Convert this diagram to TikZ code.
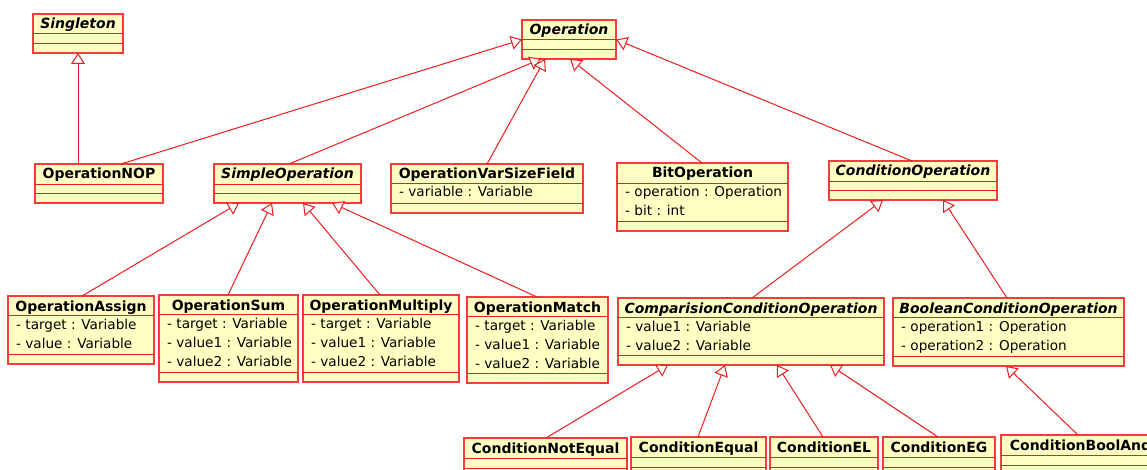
\documentclass[tikz,border=0pt]{standalone}
\usepackage{fontspec}
\setmainfont{DejaVu Sans}[
  ItalicFont={DejaVu Sans Oblique},
  BoldFont={DejaVu Sans Bold},
  BoldItalicFont={DejaVu Sans Bold Oblique}]
\usetikzlibrary{arrows.meta,fit}

\definecolor{umlred}{RGB}{238,28,28}
\definecolor{umlborder}{RGB}{245,60,60}
\definecolor{umlfill}{RGB}{255,255,196}

% class box: name, left, top, right, first divider, second divider, bottom
\newcommand\umlbox[7]{%
  \node[classbox, fit={(#2,#3) (#4,#7)}] (#1) {};
  \draw[compartment] (#2,#5) -- (#4,#5) (#2,#6) -- (#4,#6);
}
% class title: left, top, right, style, text
\newcommand\umltitle[5]{%
  \node[#4, anchor=base] at ({(#1+#3)/2},#2+15) {#5};
}
% attribute row: left, first divider, row index, text
\newcommand\umlattr[4]{%
  \node[attr, anchor=base west] at (#1+8,#2+14+19*#3) {#4};
}

\begin{document}
\begin{tikzpicture}[x=1pt,y=-1pt,
  classbox/.style={draw=umlborder, fill=umlfill, line width=1.1pt, inner sep=0pt, outer sep=0pt},
  compartment/.style={draw=umlred, line width=0.9pt},
  concrete/.style={inner sep=0pt, font=\fontsize{14pt}{16pt}\selectfont\bfseries},
  abstract/.style={inner sep=0pt, font=\fontsize{14pt}{16pt}\selectfont\bfseries\itshape},
  attr/.style={inner sep=0pt, font=\fontsize{13.6pt}{16pt}\selectfont},
  gen/.style={draw=umlred, line width=1pt,
    -{Triangle[open, length=11pt, width=14pt, fill=white, line width=1pt]}}
]
\useasboundingbox (0,0) rectangle (1147,470);
\clip (0,0) rectangle (1147,470);

% top level
\umlbox{single}{33}{14}{123}{33}{43}{53}
\umltitle{33}{14}{123}{abstract}{Singleton}
\umlbox{op}{522}{20}{616}{39}{49}{59}
\umltitle{522}{20}{616}{abstract}{Operation}

% second level
\umlbox{nop}{35}{164}{163}{184}{193}{203}
\umltitle{35}{164}{163}{concrete}{OperationNOP}

\umlbox{simple}{214}{164}{361}{184}{193}{203}
\umltitle{214}{164}{361}{abstract}{SimpleOperation}

\umlbox{varsize}{391}{164}{583}{183}{203}{213}
\umltitle{391}{164}{583}{concrete}{OperationVarSizeField}
\umlattr{391}{183}{0}{- variable : Variable}

\umlbox{bitop}{617}{163}{788}{183}{221}{231}
\umltitle{617}{163}{788}{concrete}{BitOperation}
\umlattr{617}{183}{0}{- operation : Operation}
\umlattr{617}{183}{1}{- bit : int}

\umlbox{condop}{829}{161}{997}{181}{190}{200}
\umltitle{829}{161}{997}{abstract}{ConditionOperation}

% third level
\umlbox{assign}{8}{296}{154}{315}{354}{364}
\umltitle{8}{296}{154}{concrete}{OperationAssign}
\umlattr{8}{315}{0}{- target : Variable}
\umlattr{8}{315}{1}{- value : Variable}

\umlbox{sum}{159}{295}{298}{314}{372}{382}
\umltitle{159}{295}{298}{concrete}{OperationSum}
\umlattr{159}{314}{0}{- target : Variable}
\umlattr{159}{314}{1}{- value1 : Variable}
\umlattr{159}{314}{2}{- value2 : Variable}

\umlbox{mult}{303}{295}{459}{314}{372}{382}
\umltitle{303}{295}{459}{concrete}{OperationMultiply}
\umlattr{303}{314}{0}{- target : Variable}
\umlattr{303}{314}{1}{- value1 : Variable}
\umlattr{303}{314}{2}{- value2 : Variable}

\umlbox{match}{467}{297}{608}{316}{373}{383}
\umltitle{467}{297}{608}{concrete}{OperationMatch}
\umlattr{467}{316}{0}{- target : Variable}
\umlattr{467}{316}{1}{- value1 : Variable}
\umlattr{467}{316}{2}{- value2 : Variable}

\umlbox{compare}{618}{298}{884}{317}{355}{365}
\umltitle{618}{298}{884}{abstract}{ComparisionConditionOperation}
\umlattr{618}{317}{0}{- value1 : Variable}
\umlattr{618}{317}{1}{- value2 : Variable}

\umlbox{boolop}{893}{298}{1124}{317}{356}{366}
\umltitle{893}{298}{1124}{abstract}{BooleanConditionOperation}
\umlattr{893}{317}{0}{- operation1 : Operation}
\umlattr{893}{317}{1}{- operation2 : Operation}

% fourth level
\umlbox{notequal}{464}{438}{627}{458}{468}{478}
\umltitle{464}{438}{627}{concrete}{ConditionNotEqual}
\umlbox{equal}{631}{437}{766}{457}{467}{477}
\umltitle{631}{437}{766}{concrete}{ConditionEqual}
\umlbox{el}{770}{437}{878}{457}{467}{477}
\umltitle{770}{437}{878}{concrete}{ConditionEL}
\umlbox{eg}{883}{437}{995}{457}{467}{477}
\umltitle{883}{437}{995}{concrete}{ConditionEG}
\umlbox{booland}{1001}{435}{1160}{455}{465}{475}
\umltitle{1001}{435}{1160}{concrete}{ConditionBoolAnd}

% generalizations
\draw[gen] (single.south |- nop.north) -- (single.south);
\draw[gen] ([xshift=86pt]nop.north west) -- (op.west);
\draw[gen] ([xshift=75pt]simple.north west) -- ([xshift=19pt]op.south west);
\draw[gen] ([xshift=96pt]varsize.north west) -- ([xshift=23pt]op.south west);
\draw[gen] ([xshift=85pt]bitop.north west) -- ([xshift=48pt]op.south west);
\draw[gen] ([xshift=83pt]condop.north west) -- (op.east);

\draw[gen] ([xshift=74pt]assign.north west) -- ([xshift=25pt]simple.south west);
\draw[gen] ([xshift=69pt]sum.north west) -- ([xshift=58pt]simple.south west);
\draw[gen] ([xshift=77pt]mult.north west) -- ([xshift=89pt]simple.south west);
\draw[gen] ([xshift=70pt]match.north west) -- ([xshift=118pt]simple.south west);

\draw[gen] ([xshift=134pt]compare.north west) -- ([xshift=54pt]condop.south west);
\draw[gen] ([xshift=114pt]boolop.north west) -- ([xshift=114pt]condop.south west);

\draw[gen] ([xshift=82pt]notequal.north west) -- ([xshift=50pt]compare.south west);
\draw[gen] ([xshift=67pt]equal.north west) -- ([xshift=107pt]compare.south west);
\draw[gen] ([xshift=53pt]el.north west) -- ([xshift=159pt]compare.south west);
\draw[gen] ([xshift=55pt]eg.north west) -- ([xshift=212pt]compare.south west);
\draw[gen] ([xshift=77pt]booland.north west) -- ([xshift=113pt]boolop.south west);
\end{tikzpicture}
\end{document}
